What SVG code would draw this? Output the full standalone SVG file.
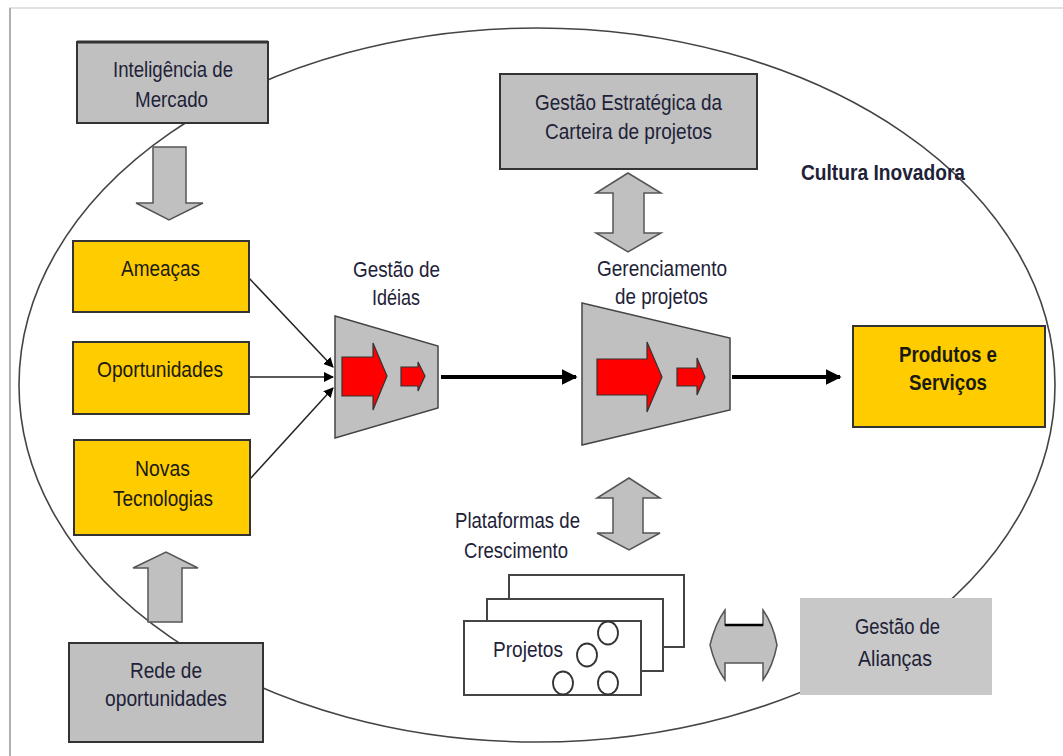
<svg xmlns="http://www.w3.org/2000/svg" width="1063" height="756" viewBox="0 0 1063 756">
  <defs>
    <style>
      .lbl { font-family: "Liberation Sans", Arial, sans-serif; font-size: 22px; fill: #1e2238; }
      .lbly { font-family: "Liberation Sans", Arial, sans-serif; font-size: 22px; fill: #1a1a10; }
      .bold { font-weight: bold; }
      .gbox { fill: #c0c0c0; stroke: #333; stroke-width: 2; }
      .ybox { fill: #ffcc00; stroke: #333; stroke-width: 2; }
      .blk { fill: #c0c0c0; stroke: #555; stroke-width: 1.5; stroke-linejoin: miter; }
      .trap { fill: #c0c0c0; stroke: #444; stroke-width: 1.5; }
      .red { fill: #ff0000; stroke: #333; stroke-width: 1.2; }
      .card { fill: #fff; stroke: #444; stroke-width: 2; }
      .dot { fill: #fff; stroke: #333; stroke-width: 1.8; }
      .thin { stroke: #222; stroke-width: 1.5; fill: none; }
      .thick { stroke: #000; stroke-width: 4; fill: none; }
    </style>
    <marker id="ah" viewBox="0 0 10 10" refX="9" refY="5" markerWidth="10" markerHeight="10" markerUnits="userSpaceOnUse" orient="auto">
      <path d="M0,0 L10,5 L0,10 z" fill="#000"/>
    </marker>
    <marker id="ahb" viewBox="0 0 10 10" refX="9" refY="5" markerWidth="4" markerHeight="4" orient="auto">
      <path d="M0,0 L10,5 L0,10 z" fill="#000"/>
    </marker>
  </defs>

  <rect width="1063" height="756" fill="#fff"/>
  <!-- page frame -->
  <line x1="9" y1="8" x2="1063" y2="8" stroke="#d8d8d8" stroke-width="1.5"/>
  <line x1="10" y1="8" x2="10" y2="756" stroke="#b0b0b0" stroke-width="2"/>

  <!-- culture boundary -->
  <g id="cultura">
    <ellipse cx="537" cy="385" rx="518" ry="357" fill="none" stroke="#444" stroke-width="1.6"/>
    <text class="lbl bold" x="801" y="180" font-size="18" textLength="164" lengthAdjust="spacingAndGlyphs" fill="#111">Cultura Inovadora</text>
  </g>

  <!-- connectors -->
  <g id="connectors">
    <line class="thin" x1="248" y1="277" x2="333" y2="367" marker-end="url(#ah)"/>
    <line class="thin" x1="249" y1="377" x2="333" y2="377" marker-end="url(#ah)"/>
    <line class="thin" x1="250" y1="479" x2="333" y2="388" marker-end="url(#ah)"/>
    <line class="thick" x1="441" y1="377" x2="576" y2="377" marker-end="url(#ahb)"/>
    <line class="thick" x1="732" y1="377" x2="840" y2="377" marker-end="url(#ahb)"/>

    <!-- block arrows -->
    <path class="blk" d="M153,147 H186 V203 H203 L169,220 L136,203 H153 Z"/>
    <path class="blk" d="M148,622 V568 H133 L166,552 L198,568 H182 V622 Z"/>
    <path class="blk" d="M628,173 L661,193 H644 V233 H661 L628,252 L596,233 H613 V193 H596 Z"/>
    <path class="blk" d="M629,478 L660,498 H643 V533 H660 L629,550 L597,533 H613 V498 H597 Z"/>
    <path class="blk" d="M710,645 Q715,624 725,610 V625 H763 V610 Q773,624 777,645 Q773,666 763,680 V663 H725 V680 Q715,666 710,645 Z"/>
    <line x1="725" y1="625" x2="763" y2="625" stroke="#000" stroke-width="2.5"/>
  </g>

  <g id="inteligencia">
    <rect class="gbox" x="77" y="42" width="191" height="81"/>
    <line x1="77" y1="42" x2="268" y2="42" stroke="#333" stroke-width="3"/>
    <text class="lbl" x="113" y="77" textLength="120" lengthAdjust="spacingAndGlyphs">Inteligência de</text>
    <text class="lbl" x="135" y="107" textLength="73" lengthAdjust="spacingAndGlyphs">Mercado</text>
  </g>

  <g id="ameacas">
    <rect class="ybox" x="73" y="241" width="176" height="71"/>
    <text class="lbly" x="121" y="276" textLength="79" lengthAdjust="spacingAndGlyphs">Ameaças</text>
  </g>

  <g id="oportunidades">
    <rect class="ybox" x="73" y="342" width="176" height="72"/>
    <text class="lbly" x="97" y="377" textLength="126" lengthAdjust="spacingAndGlyphs">Oportunidades</text>
  </g>

  <g id="novas-tecnologias">
    <rect class="ybox" x="74" y="440" width="176" height="95"/>
    <text class="lbly" x="135" y="476" textLength="55" lengthAdjust="spacingAndGlyphs">Novas</text>
    <text class="lbly" x="113" y="506" textLength="100" lengthAdjust="spacingAndGlyphs">Tecnologias</text>
  </g>

  <g id="rede">
    <rect class="gbox" x="69" y="643" width="194" height="99"/>
    <text class="lbl" x="130" y="678" textLength="72" lengthAdjust="spacingAndGlyphs">Rede de</text>
    <text class="lbl" x="105" y="706" textLength="122" lengthAdjust="spacingAndGlyphs">oportunidades</text>
  </g>

  <g id="gestao-ideias">
    <text class="lbl" x="353" y="277" textLength="87" lengthAdjust="spacingAndGlyphs">Gestão de</text>
    <text class="lbl" x="372" y="305" textLength="48" lengthAdjust="spacingAndGlyphs">Idéias</text>
    <path class="trap" d="M335,316 L438,346 V408 L335,438 Z"/>
    <path class="red" d="M342,357 H373 V343 L387,376 L373,410 V396 H342 Z"/>
    <path class="red" d="M401,367 H418 V362 L425,376 L418,391 V386 H401 Z"/>
  </g>

  <g id="gerenciamento">
    <text class="lbl" x="597" y="276" textLength="130" lengthAdjust="spacingAndGlyphs">Gerenciamento</text>
    <text class="lbl" x="615" y="304" textLength="93" lengthAdjust="spacingAndGlyphs">de projetos</text>
    <path class="trap" d="M582,303 L730,338 V410 L582,445 Z"/>
    <path class="red" d="M597,359 H647 V342 L662,377 L647,412 V395 H597 Z"/>
    <path class="red" d="M677,368 H697 V358 L705,377 L697,395 V386 H677 Z"/>
  </g>

  <g id="gestao-estrategica">
    <rect class="gbox" x="500" y="74" width="257" height="95" stroke-width="1.5"/>
    <text class="lbl" x="535" y="110" textLength="187" lengthAdjust="spacingAndGlyphs">Gestão Estratégica da</text>
    <text class="lbl" x="545" y="139" textLength="167" lengthAdjust="spacingAndGlyphs">Carteira de projetos</text>
  </g>

  <g id="produtos">
    <rect class="ybox" x="853" y="326" width="192" height="101"/>
    <text class="lbly bold" x="899" y="362" font-size="20" textLength="98" lengthAdjust="spacingAndGlyphs">Produtos e</text>
    <text class="lbly bold" x="909" y="390" font-size="20" textLength="78" lengthAdjust="spacingAndGlyphs">Serviços</text>
  </g>

  <g id="plataformas">
    <text class="lbl" x="455" y="528" textLength="125" lengthAdjust="spacingAndGlyphs">Plataformas de</text>
    <text class="lbl" x="464" y="558" textLength="104" lengthAdjust="spacingAndGlyphs">Crescimento</text>
  </g>

  <g id="projetos">
    <rect class="card" x="509" y="575" width="175" height="72"/>
    <rect class="card" x="487" y="599" width="176" height="72"/>
    <rect class="card" x="464" y="621" width="177" height="74"/>
    <text class="lbl" x="493" y="657" textLength="70" lengthAdjust="spacingAndGlyphs">Projetos</text>
    <ellipse class="dot" cx="608" cy="633" rx="10" ry="11.5"/>
    <ellipse class="dot" cx="587" cy="655" rx="10" ry="11.5"/>
    <ellipse class="dot" cx="563" cy="683" rx="10" ry="11.5"/>
    <ellipse class="dot" cx="608" cy="683" rx="10" ry="11.5"/>
  </g>

  <g id="aliancas">
    <rect x="800" y="598" width="192" height="97" fill="#c8c8c8"/>
    <text class="lbl" x="855" y="634" textLength="85" lengthAdjust="spacingAndGlyphs">Gestão de</text>
    <text class="lbl" x="858" y="666" textLength="74" lengthAdjust="spacingAndGlyphs">Alianças</text>
  </g>
</svg>
